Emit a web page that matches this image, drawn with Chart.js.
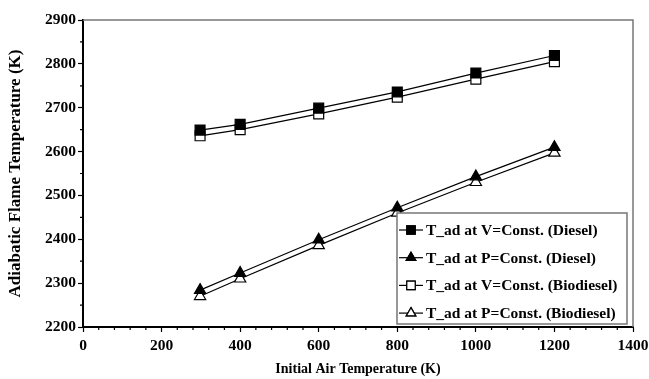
<!DOCTYPE html>
<html>
<head>
<meta charset="utf-8">
<script src="https://cdn.jsdelivr.net/npm/chart.js@4.4.0/dist/chart.umd.min.js"></script>
<style>
  html, body { margin: 0; padding: 0; background: #fff; }
  #wrap { width: 649px; height: 379px; }
</style>
</head>
<body>
<div id="wrap"><canvas id="flameChart" width="649" height="379"></canvas></div>
<script>
// Initial air temperature (K) and adiabatic flame temperatures (K)
const airTemp    = [298, 400, 600, 800, 1000, 1200];
const tadVDiesel = [2649, 2662, 2699, 2736, 2779, 2819];
const tadPDiesel = [2284, 2323, 2399, 2472, 2543, 2610];
const tadVBio    = [2636, 2650, 2686, 2724, 2765, 2805];
const tadPBio    = [2270, 2310, 2386, 2460, 2530, 2597];

const seriesLabels = [
  "T_ad at V=Const. (Diesel)",
  "T_ad at P=Const. (Diesel)",
  "T_ad at V=Const. (Biodiesel)",
  "T_ad at P=Const. (Biodiesel)"
];

const serif = "'Liberation Serif', 'Times New Roman', serif";

function pts(ys) {
  return airTemp.map((x, i) => ({ x: x, y: ys[i] }));
}

function series(label, ys, style, filled, radius) {
  return {
    label: label,
    data: pts(ys),
    showLine: true,
    borderColor: "#000",
    borderWidth: 1.2,
    pointStyle: style,
    pointRadius: radius,
    pointHoverRadius: radius,
    pointBackgroundColor: filled ? "#000" : "#fff",
    pointBorderColor: "#000",
    pointBorderWidth: 1.2
  };
}

// frame, minor ticks and the boxed legend
const decorations = {
  id: "decorations",
  afterDraw(chart) {
    const ctx = chart.ctx;
    const a = chart.chartArea;
    const xs = chart.scales.x, ys = chart.scales.y;
    ctx.save();
    // top and right frame in grey
    ctx.strokeStyle = "#777";
    ctx.lineWidth = 1.5;
    ctx.beginPath();
    ctx.moveTo(a.left, a.top);
    ctx.lineTo(a.right, a.top);
    ctx.lineTo(a.right, a.bottom);
    ctx.stroke();

    // minor ticks
    ctx.strokeStyle = "#000";
    ctx.lineWidth = 1.2;
    ctx.beginPath();
    for (let v = 40; v < 1400; v += 40) {
      if (v % 200 === 0) continue;
      const px = xs.getPixelForValue(v);
      ctx.moveTo(px, a.bottom);
      ctx.lineTo(px, a.bottom + 3);
    }
    for (let v = 2250; v < 2900; v += 100) {
      const py = ys.getPixelForValue(v);
      ctx.moveTo(a.left, py);
      ctx.lineTo(a.left - 3, py);
    }
    ctx.stroke();

    // legend box
    const bx = 397, by = 213, bw = 230, bh = 111;
    ctx.fillStyle = "#fff";
    ctx.fillRect(bx, by, bw, bh);
    ctx.strokeStyle = "#777";
    ctx.lineWidth = 1.5;
    ctx.strokeRect(bx, by, bw, bh);

    ctx.font = "bold 15.5px " + serif;
    ctx.textBaseline = "middle";
    ctx.textAlign = "left";
    chart.data.datasets.forEach((ds, i) => {
      const cy = by + 17 + i * 27.7;
      ctx.strokeStyle = "#000";
      ctx.lineWidth = 1.2;
      ctx.beginPath();
      ctx.moveTo(bx + 2, cy);
      ctx.lineTo(bx + 26, cy);
      ctx.stroke();
      Chart.helpers.drawPoint(ctx, {
        pointStyle: ds.pointStyle,
        radius: ds.pointRadius * 0.85,
        borderWidth: 1.2,
        rotation: 0
      }, bx + 14, cy);
      ctx.fillStyle = ds.pointBackgroundColor;
      ctx.strokeStyle = "#000";
      ctx.fill();
      ctx.stroke();
      ctx.fillStyle = "#000";
      ctx.fillText(ds.label, bx + 29, cy + 1);
    });
    ctx.restore();
  }
};

new Chart(document.getElementById("flameChart"), {
  type: "scatter",
  data: {
    datasets: [
      series(seriesLabels[0], tadVDiesel, "rect", true, 7),
      series(seriesLabels[1], tadPDiesel, "triangle", true, 6.5),
      series(seriesLabels[2], tadVBio, "rect", false, 7),
      series(seriesLabels[3], tadPBio, "triangle", false, 6.5)
    ]
  },
  options: {
    responsive: false,
    animation: false,
    layout: { padding: { top: 20, right: 16, left: 0, bottom: 0 } },
    plugins: {
      legend: { display: false },
      tooltip: { enabled: false }
    },
    scales: {
      x: {
        type: "linear",
        min: 0,
        max: 1400,
        afterFit(scale) {
          scale.height = 52;
          scale.paddingLeft = 0;
          scale.paddingRight = 0;
        },
        ticks: {
          stepSize: 200,
          color: "#000",
          padding: 5,
          callback: v => String(v),
          font: { family: serif, size: 15.5, weight: "bold" }
        },
        grid: { drawOnChartArea: false, tickLength: 5, tickColor: "#000", tickWidth: 1.2 },
        border: { color: "#000", width: 2 },
        title: {
          display: true,
          text: "Initial Air Temperature (K)",
          color: "#000",
          padding: { top: 2, bottom: 1 },
          font: { family: serif, size: 14, weight: "bold" }
        }
      },
      y: {
        type: "linear",
        min: 2200,
        max: 2900,
        afterFit(scale) { scale.width = 83; },
        ticks: {
          stepSize: 100,
          color: "#000",
          padding: 2,
          callback: v => String(v),
          font: { family: serif, size: 15.5, weight: "bold" }
        },
        grid: { drawOnChartArea: false, tickLength: 5, tickColor: "#000", tickWidth: 1.2 },
        border: { color: "#000", width: 2 },
        title: {
          display: true,
          text: "Adiabatic Flame Temperature (K)",
          color: "#000",
          padding: { top: 5, bottom: 2 },
          font: { family: serif, size: 17, weight: "bold" }
        }
      }
    }
  },
  plugins: [decorations]
});
</script>
</body>
</html>
